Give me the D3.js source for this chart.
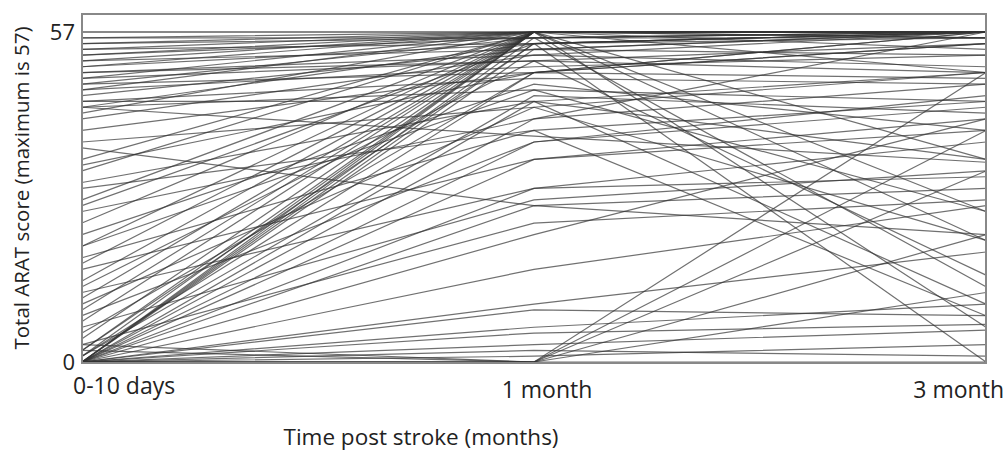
<!DOCTYPE html>
<html><head><meta charset="utf-8">
<script src="https://cdn.jsdelivr.net/npm/d3@7"></script>
<style>body{margin:0;background:#fff;} svg{display:block;}</style>
</head><body>
<svg id="c" width="1006" height="459"></svg>
<script>
const timepoints = ["0-10 days", "1 month", "3 month"];
const yTicks = [0, 57];
const baseline = [57,57,56,56,55,55,54,54,53,53,52,52,51,51,50,49,49,48,48,47,47,46,45,44,44,43,42,44,40,37,
  35,34,33,31,28,27,26,24,22,20,18,17,16,14,13,12,11,10,9,8,7,6,5,4,3,2,1,
  0,1,0,2,0,0,1,0,0,0,0,0,0,0,0,0,0,0,0,0,0,0,0,
  3,0,2,0,0, 45,50,30,20,38];
const month1 = [57,57,57,56,57,56,57,55,57,56,57,54,57,55,53,57,52,56,50,57,51,54,49,55,47,57,53,39,50,27,
  57,50,57,45,57,55,42,57,48,57,40,57,35,57,52,30,57,44,57,38,57,28,50,57,24,55,46,
  57,57,55,57,56,54,50,45,42,38,35,30,27,22,16,10,9,6,5,3,2,0,1,
  0,0,0,0,0, 45,52,40,47,44];
const month3 = [57,57,57,57,57,56,57,56,57,57,57,53,56,57,57,57,50,57,49,57,53,57,48,57,45,56,51,34.5,57,30,
  57,55,57,50,57,57,48,54,40,57,45,50,42,57,55,38,35,50,57,46,26,33,57,21,28,57,43,
  57,57,0,6,13,57,55,35,57,44,40,32,22,42,27,19,8,10,6.5,5.5,1,0,3,
  50,40,33,22,12, 10,15,8,26,21];

const svg = d3.select("#c");
const x = d3.scalePoint().domain(timepoints).range([82, 986]);
const y = d3.scaleLinear().domain([0, 57]).range([362, 32]);

const data = baseline.map((b, i) => [b, month1[i], month3[i]]);
const line = d3.line().x((d, i) => x(timepoints[i])).y(d => y(d));

svg.append("g").selectAll("path").data(data).join("path")
  .attr("d", line).attr("fill", "none")
  .attr("stroke", "#333").attr("stroke-opacity", 0.7).attr("stroke-width", 1.2);

svg.append("rect").attr("x", 82).attr("y", 14).attr("width", 904).attr("height", 349)
  .attr("fill", "none").attr("stroke", "#888").attr("stroke-width", 2);

const font = "'Open Sans', Lato, sans-serif";
svg.append("g").selectAll("text").data(yTicks).join("text")
  .attr("x", 75).attr("y", d => y(d)).attr("dy", "0.35em")
  .attr("text-anchor", "end").attr("font-family", font).attr("font-size", 22)
  .attr("fill", "#222").text(d => d);

const xl = svg.append("g");
xl.append("text").attr("x", 73).attr("y", 386).attr("dy", "0.35em").attr("text-anchor", "start")
  .attr("font-family", font).attr("font-size", 23).attr("fill", "#222").text(timepoints[0]);
xl.append("text").attr("x", x(timepoints[1]) + 13).attr("y", 390).attr("dy", "0.35em").attr("text-anchor", "middle")
  .attr("font-family", font).attr("font-size", 23).attr("fill", "#222").text(timepoints[1]);
xl.append("text").attr("x", 1004).attr("y", 390).attr("dy", "0.35em").attr("text-anchor", "end")
  .attr("font-family", font).attr("font-size", 23).attr("fill", "#222").text(timepoints[2]);

svg.append("text").attr("x", 421).attr("y", 437).attr("dy", "0.35em").attr("text-anchor", "middle")
  .attr("font-family", font).attr("font-size", 22.5).attr("fill", "#222").text("Time post stroke (months)");

svg.append("text").attr("transform", "translate(22,188) rotate(-90)").attr("dy", "0.35em")
  .attr("text-anchor", "middle").attr("font-family", font).attr("font-size", 20.5).attr("fill", "#222")
  .text("Total ARAT score (maximum is 57)");
</script>
</body></html>
